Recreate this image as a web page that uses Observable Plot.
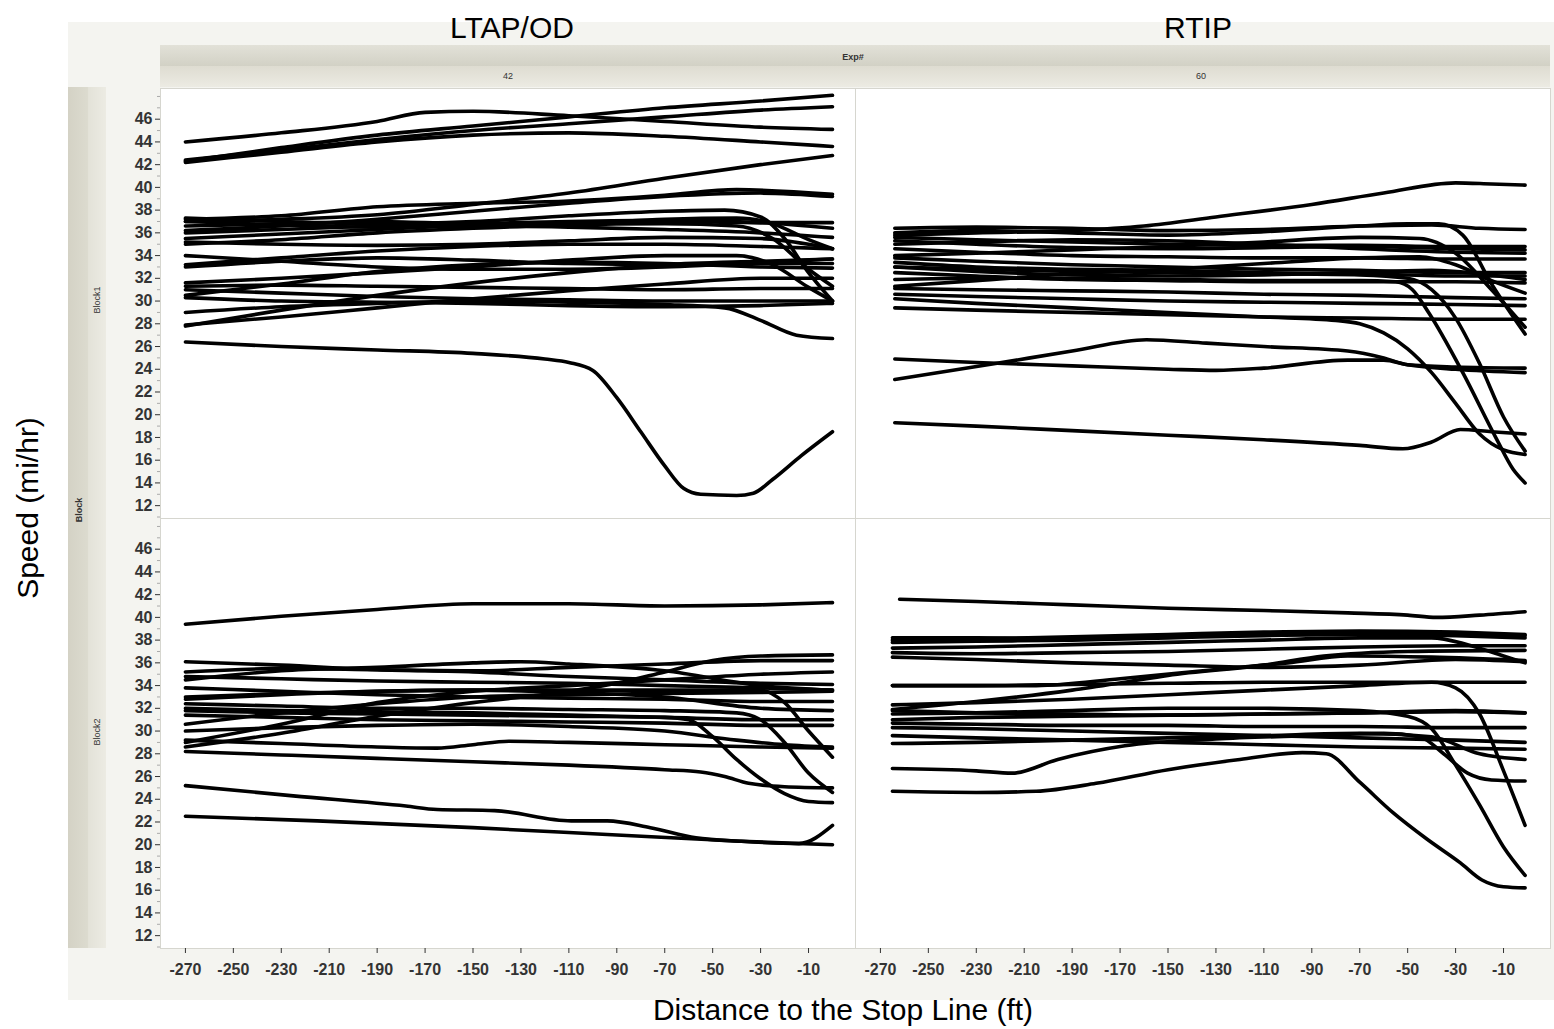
<!DOCTYPE html>
<html>
<head>
<meta charset="utf-8">
<script src="https://cdn.jsdelivr.net/npm/d3@7"></script>
<script src="https://cdn.jsdelivr.net/npm/@observablehq/plot@0.6"></script>
<style>
  body { margin: 0; background: #fff; }
  #page { position: relative; width: 1554px; height: 1029px; overflow: hidden; font-family: "Liberation Sans", Arial, sans-serif; }
  .abs { position: absolute; }
  .bg { left: 68px; top: 22px; width: 1486px; height: 978px; background: #f4f4f0; }
  .stripTop { left: 160px; top: 45px; width: 1390px; height: 21px; background: linear-gradient(#e2e1d8, #d2d1c5); }
  .stripTop2 { left: 160px; top: 66px; width: 1390px; height: 21px; background: linear-gradient(#dedcd1, #ecebe3); }
  .stripLeft { left: 68px; top: 87px; width: 20px; height: 861px; background: linear-gradient(90deg, #d4d2c5, #dcdbcf); }
  .stripLeft2 { left: 88px; top: 87px; width: 18px; height: 861px; background: linear-gradient(90deg, #e3e2d8, #ecebe3); }
  .title { font-size: 30px; line-height: 30px; color: #000; white-space: nowrap; transform: translate(-50%, 0); }
  .small { font-size: 9px; color: #333; white-space: nowrap; }
  .rot { transform: translate(-50%, -50%) rotate(-90deg); }
  .ctr { transform: translate(-50%, -50%); }
  #chart { left: 0; top: 0; }
  #chart svg text { font-weight: bold; }
</style>
</head>
<body>
<div id="page">
  <div class="abs bg"></div>
  <div class="abs stripTop"></div>
  <div class="abs stripTop2"></div>
  <div class="abs stripLeft"></div>
  <div class="abs stripLeft2"></div>
  <div id="labels"></div>
  <div id="chart" class="abs"></div>
</div>
<script>
// ---------- categories & ticks ----------
const exps = ["42", "60"];
const blocks = ["Block1", "Block2"];
const panelTitles = ["LTAP/OD", "RTIP"];
const xTicks = [-270, -250, -230, -210, -190, -170, -150, -130, -110, -90, -70, -50, -30, -10];
const yTicks = [12, 14, 16, 18, 20, 22, 24, 26, 28, 30, 32, 34, 36, 38, 40, 42, 44, 46];
const yMinorTicks = [11, 13, 15, 17, 19, 21, 23, 25, 27, 29, 31, 33, 35, 37, 39, 41, 43, 45, 47, 48];

// ---------- series: [distance ft, speed mi/hr] ----------
const ltapBlock1 = [
  [[-270,42.3],[-230,43.5],[-190,44.6],[-150,45.4],[-110,46.2],[-70,47.0],[-30,47.6],[0,48.1]],
  [[-270,42.4],[-230,43.3],[-190,44.2],[-150,45.0],[-110,45.6],[-70,46.2],[-30,46.8],[0,47.1]],
  [[-270,44.0],[-230,44.8],[-190,45.8],[-170,46.6],[-150,46.7],[-110,46.3],[-70,45.8],[-30,45.3],[0,45.1]],
  [[-270,42.2],[-230,43.1],[-190,44.0],[-150,44.6],[-110,44.8],[-70,44.5],[-30,44.0],[0,43.6]],
  [[-270,37.0],[-230,37.2],[-190,37.6],[-150,38.5],[-110,39.5],[-70,40.8],[-30,42.0],[0,42.8]],
  [[-270,37.2],[-230,37.5],[-190,38.3],[-150,38.6],[-110,38.8],[-70,39.3],[-40,39.8],[0,39.4]],
  [[-270,36.2],[-230,36.6],[-190,37.2],[-150,37.9],[-110,38.6],[-70,39.2],[-30,39.5],[0,39.2]],
  [[-270,37.3],[-230,37.0],[-190,36.8],[-150,37.0],[-110,37.5],[-70,37.9],[-45,38.0],[-30,37.4],[-20,35.5],[-10,32.5],[0,30.0]],
  [[-270,36.6],[-230,36.8],[-190,37.0],[-150,36.8],[-110,36.8],[-70,37.2],[-40,37.3],[-25,36.8],[-10,35.4],[0,34.6]],
  [[-270,37.0],[-230,36.7],[-190,36.5],[-150,36.6],[-110,36.9],[-70,37.0],[-30,36.9],[0,36.9]],
  [[-270,35.5],[-230,35.9],[-190,36.3],[-150,36.6],[-110,36.5],[-70,36.3],[-30,36.0],[0,35.6]],
  [[-270,35.2],[-230,35.0],[-190,34.9],[-150,35.0],[-110,35.3],[-70,35.6],[-30,35.5],[-10,35.0],[0,34.6]],
  [[-270,35.0],[-230,35.4],[-190,36.0],[-150,36.4],[-110,36.7],[-70,36.8],[-40,36.6],[-25,35.5],[-10,32.8],[0,31.3]],
  [[-270,36.0],[-230,36.3],[-190,36.6],[-150,36.8],[-110,37.0],[-70,37.1],[-30,36.9],[0,36.4]],
  [[-270,34.0],[-230,33.5],[-190,33.0],[-150,32.8],[-110,32.8],[-70,33.0],[-30,33.3],[0,33.3]],
  [[-270,33.2],[-230,33.8],[-190,34.4],[-150,34.8],[-110,35.0],[-70,35.0],[-30,34.8],[0,34.6]],
  [[-270,27.8],[-230,29.2],[-190,30.5],[-150,31.6],[-110,32.5],[-70,33.2],[-30,33.5],[0,33.7]],
  [[-270,27.9],[-230,28.6],[-190,29.4],[-150,30.2],[-110,30.9],[-70,31.5],[-30,32.0],[0,32.0]],
  [[-270,29.0],[-230,29.5],[-190,29.8],[-150,30.0],[-110,29.9],[-70,29.7],[-45,29.4],[-30,28.3],[-15,27.0],[0,26.7]],
  [[-270,31.3],[-230,31.4],[-190,31.3],[-150,31.2],[-110,31.1],[-70,31.0],[-30,31.1],[0,31.1]],
  [[-270,31.0],[-230,30.7],[-190,30.4],[-150,30.2],[-110,30.1],[-70,30.0],[-30,30.0],[0,30.0]],
  [[-270,30.5],[-230,31.5],[-190,32.6],[-150,33.2],[-110,33.4],[-70,33.3],[-30,33.0],[0,32.9]],
  [[-270,31.6],[-230,32.0],[-190,32.5],[-150,33.0],[-110,33.6],[-70,34.0],[-40,34.0],[-25,33.2],[-10,31.2],[0,30.0]],
  [[-270,33.0],[-230,33.5],[-190,33.8],[-150,33.6],[-110,33.3],[-70,33.2],[-30,33.4],[0,33.7]],
  [[-270,30.3],[-230,30.0],[-190,29.9],[-150,29.8],[-110,29.6],[-70,29.5],[-30,29.6],[0,29.8]],
  [[-270,26.4],[-230,26.0],[-190,25.7],[-150,25.4],[-120,24.9],[-110,24.6],[-100,23.9],[-90,21.5],[-80,18.5],[-70,15.5],[-62,13.5],[-55,13.0],[-40,12.9],[-33,13.1],[-25,14.3],[-13,16.4],[0,18.5]]
];

const rtipBlock1 = [
  [[-264,35.8],[-230,36.0],[-190,36.2],[-160,36.6],[-130,37.4],[-90,38.5],[-60,39.5],[-30,40.4],[-15,40.3],[-1,40.2]],
  [[-264,36.4],[-230,36.5],[-190,36.4],[-150,36.2],[-110,36.3],[-70,36.6],[-40,36.7],[-20,36.4],[-1,36.3]],
  [[-264,36.0],[-230,36.2],[-190,36.0],[-150,35.8],[-110,36.1],[-70,36.6],[-50,36.8],[-37,36.8],[-27,35.8],[-15,31.5],[-1,27.1]],
  [[-264,35.6],[-230,35.4],[-190,35.2],[-150,35.0],[-110,34.9],[-70,34.9],[-30,34.8],[-1,34.8]],
  [[-264,35.3],[-230,35.0],[-190,34.7],[-150,34.6],[-110,34.7],[-70,34.8],[-30,34.6],[-1,34.5]],
  [[-264,35.0],[-230,35.2],[-190,35.4],[-150,35.3],[-110,35.0],[-70,34.6],[-30,34.3],[-1,34.2]],
  [[-264,34.6],[-230,34.3],[-190,34.0],[-150,33.9],[-110,33.8],[-70,33.8],[-30,33.7],[-1,33.7]],
  [[-264,33.8],[-230,33.5],[-190,33.2],[-150,33.0],[-110,32.8],[-70,32.7],[-30,32.5],[-1,32.5]],
  [[-264,33.4],[-230,33.0],[-190,32.8],[-150,32.7],[-110,32.5],[-70,32.4],[-30,32.2],[-1,32.2]],
  [[-264,33.0],[-230,32.6],[-190,32.3],[-150,32.2],[-110,32.3],[-70,32.5],[-40,32.7],[-20,32.4],[-1,31.9]],
  [[-264,32.5],[-230,32.2],[-190,31.9],[-150,31.8],[-110,31.7],[-70,31.7],[-30,31.7],[-1,31.6]],
  [[-264,31.3],[-230,31.8],[-190,32.4],[-150,32.8],[-110,33.3],[-70,33.8],[-45,33.9],[-30,33.2],[-15,31.8],[-1,30.7]],
  [[-264,31.1],[-230,31.0],[-190,30.9],[-150,30.8],[-110,30.6],[-70,30.5],[-30,30.3],[-1,30.2]],
  [[-264,30.6],[-230,30.4],[-190,30.2],[-150,30.0],[-110,29.9],[-70,29.8],[-30,29.7],[-1,29.6]],
  [[-264,29.4],[-230,29.2],[-190,29.0],[-150,28.8],[-110,28.6],[-70,28.5],[-30,28.4],[-1,28.4]],
  [[-264,34.0],[-230,34.2],[-190,34.5],[-150,34.8],[-110,35.2],[-70,35.6],[-45,35.5],[-30,34.2],[-15,31.0],[-1,27.7]],
  [[-264,30.2],[-230,29.8],[-190,29.4],[-150,29.0],[-110,28.6],[-80,28.3],[-70,28.0],[-60,27.2],[-50,25.8],[-40,23.7],[-30,21.0],[-20,18.3],[-10,16.9],[-1,16.5]],
  [[-264,31.9],[-230,32.0],[-190,32.0],[-150,31.9],[-110,31.8],[-70,31.8],[-55,31.7],[-48,31.0],[-41,28.9],[-27,23.7],[-13,17.9],[-6,15.2],[-1,14.0]],
  [[-264,33.0],[-230,32.8],[-190,32.6],[-150,32.5],[-110,32.4],[-70,32.3],[-50,32.0],[-40,31.0],[-30,28.5],[-20,24.5],[-10,19.8],[-1,16.8]],
  [[-264,24.9],[-230,24.6],[-190,24.3],[-150,24.0],[-130,23.9],[-110,24.1],[-75,24.8],[-60,24.8],[-50,24.4],[-30,24.0],[-1,23.7]],
  [[-264,23.1],[-222,24.5],[-190,25.6],[-159,26.6],[-134,26.3],[-110,26.0],[-75,25.6],[-60,25.0],[-50,24.4],[-30,24.2],[-1,24.1]],
  [[-264,19.3],[-230,19.0],[-190,18.6],[-150,18.2],[-110,17.8],[-70,17.3],[-52,17.0],[-40,17.6],[-28,18.7],[-15,18.5],[-1,18.3]]
];

const ltapBlock2 = [
  [[-270,39.4],[-230,40.1],[-190,40.7],[-150,41.2],[-110,41.2],[-70,41.0],[-30,41.1],[0,41.3]],
  [[-270,25.2],[-225,24.3],[-178,23.4],[-165,23.1],[-141,23.0],[-109,22.1],[-94,22.1],[-76,21.5],[-57,20.6],[-38,20.3],[-14,20.1],[0,21.7]],
  [[-270,22.5],[-215,22.1],[-150,21.5],[-94,20.9],[-38,20.3],[0,20.0]],
  [[-270,28.2],[-230,27.9],[-190,27.6],[-150,27.3],[-110,27.0],[-70,26.6],[-55,26.4],[-45,26.0],[-35,25.4],[-20,25.1],[0,25.0]],
  [[-270,29.2],[-230,28.9],[-190,28.6],[-165,28.5],[-150,28.8],[-135,29.1],[-110,29.0],[-70,28.8],[-30,28.6],[0,28.5]],
  [[-270,28.6],[-230,29.8],[-190,31.3],[-150,32.5],[-110,33.5],[-90,34.2],[-70,35.2],[-50,36.2],[-30,36.6],[0,36.7]],
  [[-270,29.0],[-230,30.6],[-190,32.5],[-150,33.5],[-110,34.0],[-70,34.5],[-30,35.0],[0,35.2]],
  [[-270,36.1],[-230,35.8],[-190,35.4],[-150,35.2],[-110,34.8],[-70,34.5],[-30,34.2],[0,34.1]],
  [[-270,34.5],[-230,35.3],[-190,35.6],[-150,36.0],[-130,36.1],[-110,35.9],[-70,35.3],[-30,34.0],[0,33.6]],
  [[-270,35.2],[-230,35.5],[-190,35.4],[-150,35.3],[-110,35.6],[-70,35.9],[-30,36.2],[0,36.2]],
  [[-270,31.8],[-230,31.6],[-190,31.5],[-150,31.4],[-110,31.3],[-70,31.2],[-60,31.0],[-50,29.5],[-40,27.5],[-30,25.8],[-20,24.5],[-10,23.8],[0,23.7]],
  [[-270,33.0],[-230,33.3],[-190,33.5],[-150,33.6],[-110,33.6],[-70,33.6],[-30,33.6],[-20,32.5],[-10,30.0],[0,27.7]],
  [[-270,32.4],[-230,32.2],[-190,32.0],[-150,32.0],[-110,31.9],[-70,31.8],[-40,31.6],[-30,31.0],[-20,29.0],[-10,26.3],[0,24.6]],
  [[-270,34.8],[-230,34.6],[-190,34.4],[-150,34.3],[-110,34.2],[-70,34.0],[-30,33.8],[0,33.6]],
  [[-270,33.8],[-230,33.5],[-190,33.2],[-150,33.0],[-110,32.9],[-70,32.8],[-30,32.6],[0,32.6]],
  [[-270,32.8],[-230,33.2],[-190,33.5],[-150,33.6],[-110,33.4],[-70,33.0],[-30,32.0],[0,31.8]],
  [[-270,32.0],[-230,31.8],[-190,31.7],[-150,31.6],[-110,31.4],[-70,31.2],[-30,31.0],[0,31.0]],
  [[-270,31.4],[-230,31.2],[-190,31.0],[-150,30.9],[-110,30.8],[-70,30.7],[-30,30.5],[0,30.5]],
  [[-270,30.0],[-230,30.3],[-190,30.5],[-150,30.6],[-110,30.4],[-70,30.0],[-40,29.2],[-20,28.8],[0,28.6]],
  [[-270,30.6],[-230,31.6],[-190,32.4],[-150,33.0],[-110,33.2],[-70,33.3],[-30,33.4],[0,33.5]]
];

const rtipBlock2 = [
  [[-262,41.6],[-230,41.4],[-190,41.1],[-150,40.8],[-110,40.6],[-75,40.4],[-50,40.2],[-38,40.0],[-20,40.2],[-1,40.5]],
  [[-265,38.2],[-230,38.2],[-190,38.1],[-150,38.3],[-110,38.5],[-70,38.6],[-30,38.6],[-1,38.4]],
  [[-265,37.8],[-230,37.9],[-190,38.0],[-150,38.2],[-110,38.4],[-70,38.5],[-30,38.4],[-1,38.2]],
  [[-265,37.3],[-230,37.4],[-190,37.6],[-150,37.8],[-110,38.0],[-70,38.2],[-40,38.2],[-25,37.6],[-10,36.6],[-1,36.0]],
  [[-265,36.9],[-230,36.8],[-190,36.9],[-150,37.0],[-110,37.2],[-70,37.4],[-30,37.5],[-1,37.5]],
  [[-265,36.5],[-230,36.3],[-190,36.0],[-150,35.8],[-110,35.6],[-70,35.8],[-30,36.3],[-1,36.1]],
  [[-265,31.9],[-230,32.6],[-190,33.6],[-168,34.3],[-150,34.9],[-110,35.8],[-85,36.6],[-50,37.0],[-1,37.1]],
  [[-265,34.0],[-205,34.0],[-170,34.6],[-131,35.4],[-100,36.0],[-75,36.6],[-40,36.5],[-1,36.2]],
  [[-265,34.0],[-230,34.0],[-190,34.1],[-150,34.2],[-110,34.3],[-70,34.3],[-30,34.3],[-1,34.3]],
  [[-265,32.3],[-230,32.5],[-190,32.8],[-150,33.2],[-110,33.6],[-70,34.0],[-40,34.3],[-30,33.8],[-20,31.5],[-10,26.5],[-1,21.7]],
  [[-265,31.5],[-230,31.6],[-190,31.8],[-150,32.0],[-110,32.0],[-70,31.8],[-50,31.3],[-40,30.2],[-30,27.0],[-20,23.5],[-10,19.8],[-1,17.3]],
  [[-265,24.7],[-230,24.6],[-205,24.7],[-180,25.4],[-150,26.6],[-120,27.5],[-94,28.1],[-84,28.0],[-70,25.5],[-56,22.8],[-42,20.5],[-28,18.4],[-19,16.9],[-10,16.3],[-1,16.2]],
  [[-265,31.8],[-230,31.6],[-190,31.5],[-150,31.4],[-110,31.5],[-70,31.6],[-30,31.8],[-1,31.6]],
  [[-265,31.0],[-230,31.2],[-190,31.3],[-150,31.4],[-110,31.5],[-70,31.6],[-30,31.7],[-1,31.6]],
  [[-265,30.7],[-230,30.6],[-190,30.5],[-150,30.5],[-110,30.4],[-70,30.4],[-30,30.3],[-1,30.3]],
  [[-265,30.3],[-230,30.2],[-190,30.0],[-150,29.8],[-110,29.6],[-70,29.4],[-30,29.2],[-1,29.0]],
  [[-265,29.6],[-230,29.4],[-190,29.2],[-150,29.0],[-110,28.8],[-70,28.6],[-30,28.5],[-1,28.4]],
  [[-265,28.9],[-230,29.0],[-190,29.2],[-150,29.4],[-110,29.6],[-70,29.8],[-40,29.5],[-20,28.0],[-1,27.5]],
  [[-265,26.7],[-230,26.5],[-215,26.3],[-196,27.5],[-168,28.7],[-130,29.3],[-90,29.6],[-60,29.8],[-45,29.5],[-35,28.0],[-25,26.3],[-15,25.7],[-1,25.6]],
  [[-265,38.0],[-230,38.1],[-190,38.3],[-150,38.5],[-110,38.7],[-70,38.8],[-30,38.7],[-1,38.5]]
];

// ---------- build table ----------
const panels = [
  {exp: exps[0], block: blocks[0], lines: ltapBlock1},
  {exp: exps[1], block: blocks[0], lines: rtipBlock1},
  {exp: exps[0], block: blocks[1], lines: ltapBlock2},
  {exp: exps[1], block: blocks[1], lines: rtipBlock2}
];
const rows = [];
panels.forEach(p => p.lines.forEach((ln, i) => ln.forEach(([d, v]) => rows.push({exp: p.exp, block: p.block, id: p.exp + "-" + p.block + "-" + i, d, v}))));

const plain = d => String(d); // ASCII hyphen-minus as in the reference

const chart = Plot.plot({
  width: 1554,
  height: 1029,
  marginLeft: 160,
  marginRight: 4,
  marginTop: 87,
  marginBottom: 81,
  style: {background: "transparent", fontFamily: "'Liberation Sans', Arial, sans-serif"},
  x: {domain: [-280.4, 9.6]},
  y: {domain: [10.87, 48.7]},
  fx: {domain: exps, padding: 0, axis: null},
  fy: {domain: blocks, padding: 0, axis: null},
  marks: [
    Plot.frame({fill: "white", stroke: "#d6d6cf"}),
    Plot.axisY({ticks: yMinorTicks, tickSize: 3, tickFormat: () => "", color: "#aaa", label: null}),
    Plot.axisY({ticks: yTicks, tickFormat: plain, tickSize: 5, tickPadding: 3, fontSize: 16, fontWeight: "bold", color: "#333", label: null}),
    Plot.axisX({ticks: xTicks, tickFormat: plain, tickSize: 5, tickPadding: 10, fontSize: 16, fontWeight: "bold", color: "#333", label: null}),
    Plot.line(rows, {x: "d", y: "v", z: "id", fx: "exp", fy: "block", stroke: "black", strokeWidth: 3.6, curve: "monotone-x"})
  ]
});
document.getElementById("chart").appendChild(chart);

// ---------- HTML labels (titles, strips, axis titles) ----------
const L = document.getElementById("labels");
function addLabel(text, cls, x, y, extra) {
  const el = document.createElement("div");
  el.className = "abs " + cls;
  el.textContent = text;
  el.style.left = x + "px";
  el.style.top = y + "px";
  if (extra) Object.assign(el.style, extra);
  L.appendChild(el);
}
addLabel(panelTitles[0], "title", 512, 13);
addLabel(panelTitles[1], "title", 1198, 13);
addLabel("Exp#", "small ctr", 853, 57, {fontWeight: "bold"});
addLabel(exps[0], "small ctr", 508, 76);
addLabel(exps[1], "small ctr", 1201, 76);
addLabel("Block", "small rot", 79, 510, {fontWeight: "bold"});
addLabel(blocks[0], "small rot", 97, 300);
addLabel(blocks[1], "small rot", 97, 732);
addLabel("Speed (mi/hr)", "title rot", 28, 508, {transform: "translate(-50%, -50%) rotate(-90deg)"});
addLabel("Distance to the Stop Line (ft)", "title", 843, 995);
</script>
</body>
</html>
